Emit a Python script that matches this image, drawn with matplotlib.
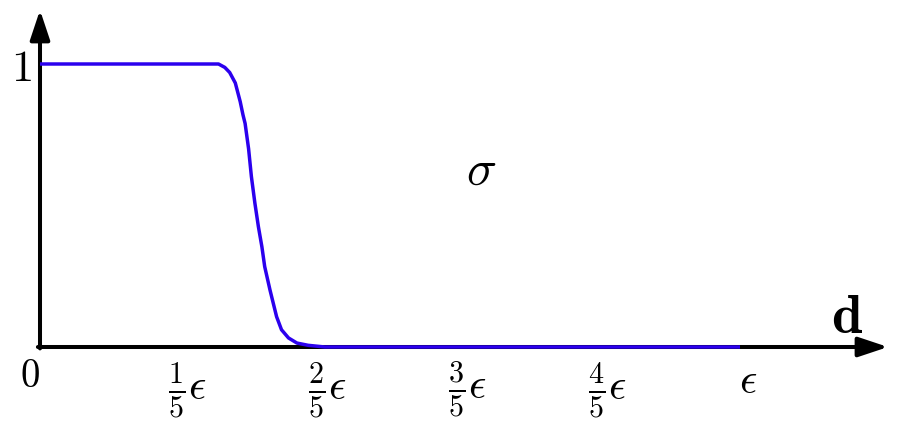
import matplotlib
matplotlib.use("Agg")
import matplotlib.pyplot as plt

plt.rcParams['mathtext.fontset'] = 'cm'

# curve (d in units of epsilon)
d_vals = [0.0, 0.255, 0.264, 0.271, 0.279, 0.286, 0.290, 0.293, 0.298, 0.302,
          0.307, 0.312, 0.317, 0.321, 0.3286, 0.3333, 0.338, 0.345, 0.355,
          0.367, 0.383, 0.407, 1.0]
sigma_vals = [1.0, 1.0, 0.988, 0.970, 0.933, 0.867, 0.820, 0.790, 0.700, 0.602,
              0.508, 0.425, 0.354, 0.284, 0.201, 0.154, 0.107, 0.061, 0.032,
              0.014, 0.006, 0.0, 0.0]

tick_pos = [0.2, 0.4, 0.6, 0.8, 1.0]
tick_labels = [r'$\frac{1}{5}\epsilon$', r'$\frac{2}{5}\epsilon$',
               r'$\frac{3}{5}\epsilon$', r'$\frac{4}{5}\epsilon$', r'$\epsilon$']

fig = plt.figure(figsize=(9, 4.25), dpi=100)
ax = fig.add_axes([0, 0, 1, 1])
# 700 px per epsilon horizontally, 283 px per unit vertically, origin at (40, 347)
ax.set_xlim(-40 / 700, 860 / 700)
ax.set_ylim((347 - 425) / 283, 347 / 283)
ax.axis('off')

# axes with arrow heads
arrow = dict(arrowstyle='-|>,head_length=1.8,head_width=0.6', color='black',
             lw=2.9, mutation_scale=10, shrinkA=0, shrinkB=0)
ax.annotate('', xy=(848 / 700, 0), xytext=(-0.003, 0), arrowprops=arrow)
ax.annotate('', xy=(0, 337 / 283), xytext=(0, -0.005), arrowprops=arrow)

ax.plot(d_vals, sigma_vals, color='#2b00ee', lw=2.5, zorder=5,
        solid_capstyle='butt', solid_joinstyle='round')

for p, lab in zip(tick_pos, tick_labels):
    yb = -0.163 if lab == r'$\epsilon$' else -0.187
    ax.text(p + 0.011, yb, lab, fontsize=31, ha='center', va='baseline')

ax.text(-0.014, -0.141, r'$0$', fontsize=28, ha='center', va='baseline')
ax.text(-0.026, 0.94, r'$1$', fontsize=32, ha='center', va='baseline')
ax.text(0.63, 0.572, r'$\sigma$', fontsize=36, ha='center', va='baseline')
ax.text(1.153, 0.049, r'$\mathbf{d}$', fontsize=40, ha='center', va='baseline')

fig.savefig('out.png', dpi=100)
